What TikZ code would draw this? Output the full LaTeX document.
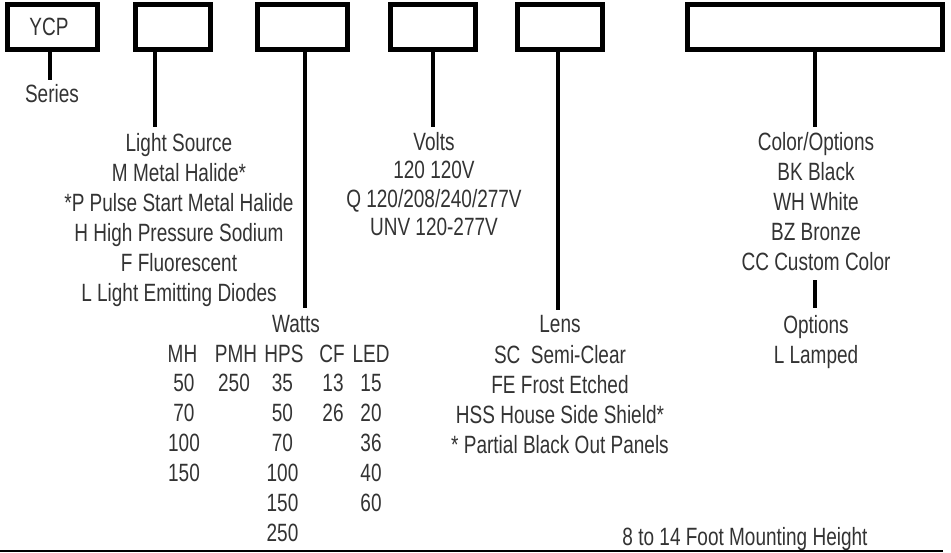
\documentclass[tikz,border=0pt]{standalone}
\usepackage{fontspec}
\setmainfont[FakeStretch=0.76]{Liberation Sans}
\definecolor{txt}{HTML}{333333}
\begin{document}
\begin{tikzpicture}[x=1pt,y=-1pt,
  codebox/.style={draw=black, line width=5pt, inner sep=0pt, minimum height=45pt},
  lbl/.style={anchor=base, text=txt, inner sep=0pt, font=\fontsize{25}{30}\selectfont},
  conn/.style={draw=black, line width=4.5pt}]
\useasboundingbox (0,0) rectangle (951,552);
% boxes
\node[codebox, minimum width=90pt] (b1) at (52.5,27) {};
\node[codebox, minimum width=75pt] (b2) at (173,27) {};
\node[codebox, minimum width=90pt] (b3) at (302.5,27) {};
\node[codebox, minimum width=85pt] (b4) at (433,27) {};
\node[codebox, minimum width=85pt] (b5) at (560,27) {};
\node[codebox, minimum width=255pt] (b6) at (815,27) {};
\node[lbl] (ycp) at (49,35) {YCP};
% connector end points
\coordinate (e1) at (50,80);
\coordinate (e2) at (155,127);
\coordinate (e3) at (305,308);
\coordinate (e4) at (433,127);
\coordinate (e5) at (558,310);
\coordinate (e6) at (815,127);
\coordinate (e7a) at (815,280);
\coordinate (e7b) at (815,308);
\draw[conn] (b1.south -| e1) -- (e1);
\draw[conn] (b2.south -| e2) -- (e2);
\draw[conn] (b3.south -| e3) -- (e3);
\draw[conn] (b4.south -| e4) -- (e4);
\draw[conn] (b5.south -| e5) -- (e5);
\draw[conn] (b6.south -| e6) -- (e6);
\draw[conn] (e7a) -- (e7b);
% series
\node[lbl] (ser) at (52,102) {Series};
% light source
\foreach \t [count=\i] in {Light Source, M Metal Halide*, *P Pulse Start Metal Halide, H High Pressure Sodium, F Fluorescent, L Light Emitting Diodes}
  \node[lbl] (ls\i) at (179,{121+30*\i}) {\t};
% volts
\foreach \t [count=\i] in {Volts, 120 120V, Q 120/208/240/277V, UNV 120-277V}
  \node[lbl] (vo\i) at (434,{121.5+28.5*\i}) {\t};
% color/options
\foreach \t [count=\i] in {Color/Options, BK Black, WH White, BZ Bronze, CC Custom Color}
  \node[lbl] (co\i) at (816,{120+30*\i}) {\t};
\node[lbl] (op1) at (816,333) {Options};
\node[lbl] (op2) at (816,363) {L Lamped};
% lens
\node[lbl] (le0) at (560,332) {Lens};
\foreach \t [count=\i] in {SC~ Semi-Clear, FE Frost Etched, HSS House Side Shield*, * Partial Black Out Panels}
  \node[lbl] (le\i) at (560,{333+30*\i}) {\t};
% watts
\node[lbl] (wa) at (296,332) {Watts};
\node[lbl] (hMH) at (182.5,362) {MH};
\node[lbl] (hPMH) at (236,362) {PMH};
\node[lbl] (hHPS) at (284,362) {HPS};
\node[lbl] (hCF) at (332,362) {CF};
\node[lbl] (hLED) at (371,362) {LED};
\foreach \t [count=\i] in {50,70,100,150}
  \node[lbl] (mh\i) at (184,{361+30*\i}) {\t};
\node[lbl] (pmh1) at (234,391) {250};
\foreach \t [count=\i] in {35,50,70,100,150,250}
  \node[lbl] (hps\i) at (282.5,{361+30*\i}) {\t};
\foreach \t [count=\i] in {13,26}
  \node[lbl] (cf\i) at (333,{361+30*\i}) {\t};
\foreach \t [count=\i] in {15,20,36,40,60}
  \node[lbl] (led\i) at (371,{361+30*\i}) {\t};
% mounting height
\node[lbl] (mount) at (745,545) {8 to 14 Foot Mounting Height};
\fill[black] (0,549.5) rectangle (943,552);
\end{tikzpicture}
\end{document}
